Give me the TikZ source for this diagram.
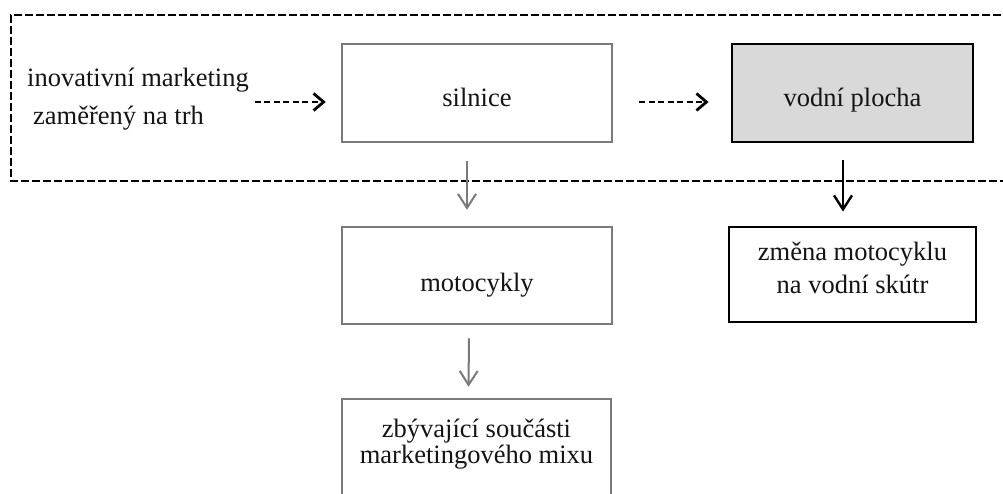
\documentclass[tikz,border=0pt]{standalone}
\usepackage{fontspec}
\setmainfont{Liberation Serif}
\usetikzlibrary{arrows.meta}
\definecolor{ink}{HTML}{141414}
\definecolor{frame}{HTML}{7A7A7A}
\definecolor{shade}{HTML}{D9D9D9}

\begin{document}
\begin{tikzpicture}[x=1pt,y=-1pt,
  txt/.style={font=\fontsize{26.5}{33}\selectfont, text=ink, inner sep=0pt, align=center},
  graybox/.style={draw=frame, line width=2.5pt, inner sep=0pt},
  darkbox/.style={draw=black, line width=2.8pt, inner sep=0pt},
  region/.style={draw=black, line width=2.8pt, dash pattern=on 8pt off 3pt},
  dasharrow/.style={draw=black, line width=2.8pt, dash pattern=on 6pt off 3.5pt,
    -{Straight Barb[length=10pt,width=17pt]}},
  grayarrow/.style={draw=frame, line width=2pt, -{Straight Barb[length=14pt,width=18pt]}},
  blackarrow/.style={draw=black, line width=2.4pt, -{Straight Barb[length=14pt,width=18pt]}}
]
\useasboundingbox (0,0) rectangle (1003,493);
\fill[white] (0,0) rectangle (1003,493);
\clip (0,0) rectangle (1003,493);

% dashed frame, open to the right
\draw[region] (1012,15) -- (11,15) -- (11,181) -- (1012,181);

% boxes
\node[graybox, minimum width=270, minimum height=98,
  label={[txt, name=silnice-t, yshift=-4pt]center:silnice}] (silnice) at (477,93) {};
\node[darkbox, fill=shade, minimum width=241, minimum height=98,
  label={[txt, name=vodni-t, yshift=-7pt]center:vodní plocha}] (vodni) at (852.5,93) {};
\node[graybox, minimum width=270, minimum height=97,
  label={[txt, name=moto-t, yshift=-9.5pt]center:motocykly}] (moto) at (477,275.5) {};
\node[darkbox, minimum width=247, minimum height=95,
  label={[txt, name=zmena-t, yshift=7pt]center:{změna motocyklu\\na vodní skútr}}] (zmena) at (852.5,274.5) {};
\node[graybox, minimum width=269, minimum height=100,
  label={[txt, name=zb-t, yshift=5pt, font=\fontsize{26.5}{26}\selectfont]center:{zbývající součásti\\marketingového mixu}}] (zb) at (476.5,449) {};

% starting label
\node[txt, align=left, anchor=west, font=\fontsize{26.5}{38}\selectfont] (intro) at (27,99.5)
  {inovativní marketing\\\hspace*{6pt}zaměřený na trh};

% connectors
\draw[dasharrow] ([shift={(6,2.5)}]intro.east) -- ([shift={(-15,9)}]silnice.west);
\draw[dasharrow] ([shift={(26,9)}]silnice.east) -- ([shift={(-22,9)}]vodni.west);
\draw[grayarrow] ([shift={(-10,18)}]silnice.south) -- ([shift={(-10,-16)}]moto.north);
\draw[blackarrow] ([shift={(-9.5,17)}]vodni.south) -- ([shift={(-9.5,-14)}]zmena.north);
\draw[grayarrow] ([shift={(-8,13)}]moto.south) -- ([shift={(-8,-11)}]zb.north);
\end{tikzpicture}
\end{document}
